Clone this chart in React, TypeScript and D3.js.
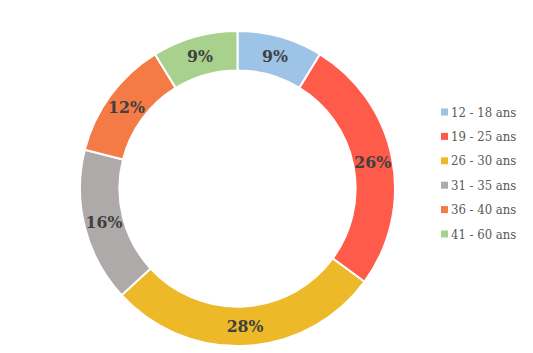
import React from 'react';
import * as d3 from 'd3';

const categories = ['12 - 18 ans', '19 - 25 ans', '26 - 30 ans', '31 - 35 ans', '36 - 40 ans', '41 - 60 ans'];
const counts = [5, 15, 16, 9, 7, 5];
const colors = ['#9DC3E6', '#FF5B4B', '#EDB928', '#AEAAAA', '#F47B45', '#A9D18E'];

const W = 533;
const H = 353;
const font = "'DejaVu Serif Condensed', 'DejaVu Serif', serif";

const App = () => {
  const cx = 237.5;
  const cy = 188.5;
  const outer = 157.5;
  const inner = outer * 0.75;
  const total = d3.sum(counts);

  const pie = d3.pie<number>().sort(null).value(d => d)(counts);
  const arc = d3.arc<d3.PieArcDatum<number>>().innerRadius(inner).outerRadius(outer);

  // legend rows
  const legendY = d3.scalePoint<string>().domain(categories).range([112, 234]);

  return (
    <svg width={W} height={H} style={{ position: 'absolute', left: 0, top: 0, background: '#fff' }}>
      <g transform={`translate(${cx},${cy})`}>
        {pie.map((p, i) => (
          <path key={i} d={arc(p) || ''} fill={colors[i]} stroke="#fff" strokeWidth={2} />
        ))}
        {pie.map((p, i) => {
          const [x, y] = arc.centroid(p);
          return (
            <text key={'l' + i} x={x} y={y} dy="0.35em" textAnchor="middle"
              fontFamily={font} fontWeight="bold" fontSize={17.5} fill="#404040">
              {Math.round((counts[i] / total) * 100)}%
            </text>
          );
        })}
      </g>
      <g>
        {categories.map((c, i) => (
          <g key={c} transform={`translate(441,${legendY(c)})`}>
            <rect x={0} y={-3.5} width={7} height={7} fill={colors[i]} />
            <text x={10} y={0} dy="0.35em" fontFamily={font} fontSize={13} fill="#595959">{c}</text>
          </g>
        ))}
      </g>
    </svg>
  );
};

export default App;
